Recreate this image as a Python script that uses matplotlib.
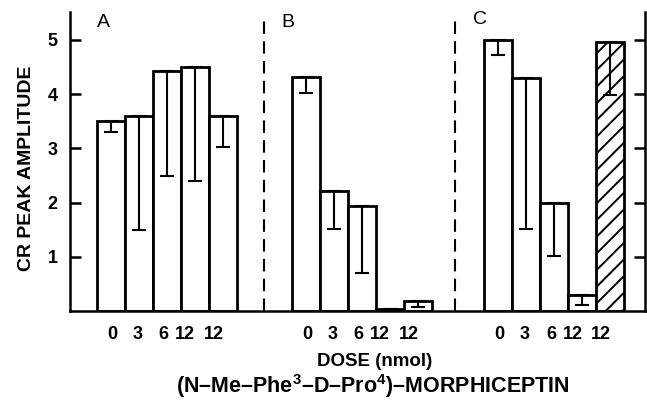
import numpy as np
import matplotlib
matplotlib.use("Agg")
import matplotlib.pyplot as plt

plt.rcParams['font.family'] = ['Liberation Sans', 'DejaVu Sans']
plt.rcParams['mathtext.fontset'] = 'custom'
plt.rcParams['mathtext.bf'] = 'Liberation Sans:bold'
plt.rcParams['mathtext.rm'] = 'Liberation Sans:bold'
plt.rcParams['hatch.linewidth'] = 1.4

# data
doses = ["0", "3", "6", "12", "12"]
panels = ["A", "B", "C"]
means_a = [3.5, 3.6, 4.42, 4.5, 3.6]
lower_a = [3.3, 1.5, 2.5, 2.4, 3.03]
means_b = [4.32, 2.22, 1.93, 0.03, 0.19]
lower_b = [4.02, 1.52, 0.71, 0.03, 0.07]
means_c = [5.0, 4.3, 2.0, 0.3, 4.97]
lower_c = [4.72, 1.51, 1.01, 0.11, 3.98]
hatched_c = [False, False, False, False, True]

means = [means_a, means_b, means_c]
lowers = [lower_a, lower_b, lower_c]
hatch = [[False] * 5, [False] * 5, hatched_c]

# layout (bar-width units)
starts = [0.96, 7.92, 14.8]
dividers = [6.93, 13.75]
label_shift = [0.05, -0.05, -0.12, -0.35, -0.33]
letter_pos = [(1.18, 5.33), (7.79, 5.33), (14.64, 5.37)]

fig = plt.figure(figsize=(6.47, 4.03), dpi=100)
ax = fig.add_axes([70 / 647, 92 / 403, 575 / 647, 299 / 403])

ticks, ticklabels = [], []
for p in range(3):
    x = starts[p] + 0.5 + np.arange(5)
    for i in range(5):
        ax.bar(x[i], means[p][i], width=1.0, facecolor='white', edgecolor='black',
               linewidth=2.0, hatch='//' if hatch[p][i] else None, zorder=2)
    err = np.array(means[p]) - np.array(lowers[p])
    ax.errorbar(x, means[p], yerr=[err, np.zeros(5)], fmt='none', ecolor='black',
                elinewidth=1.5, capsize=5, capthick=1.5, zorder=3)
    ticks += list(x + np.array(label_shift))
    ticklabels += doses
    ax.text(*letter_pos[p], panels[p], fontsize=14, ha='center', va='center')

for d in dividers:
    ax.plot([d, d], [0, 5.35], color='black', lw=1.5, dashes=(6, 3.5), zorder=1)

ax.set_xlim(0, 575 / 28)
ax.set_ylim(0, 299 / 54.2)
ax.spines['top'].set_visible(False)
for s in ['left', 'right', 'bottom']:
    ax.spines[s].set_linewidth(1.8)

ax.set_yticks([1, 2, 3, 4, 5])
ax.set_yticklabels(["1", "2", "3", "4", "5"], fontweight='bold', fontsize=13)
ax.tick_params(axis='y', direction='in', length=8, width=1.8, pad=9,
               right=True, labelright=False)
ax.set_xticks(ticks)
ax.set_xticklabels(ticklabels, fontweight='bold', fontsize=13)
ax.tick_params(axis='x', length=0, pad=11)

fig.text(27 / 647, 1 - 168 / 403, "CR PEAK AMPLITUDE", rotation=90,
         fontsize=14, fontweight='bold', ha='center', va='center')
fig.text(375 / 647, 1 - 361 / 403, "DOSE (nmol)", fontsize=13.5,
         fontweight='bold', ha='center', va='center')
title = "(N\u2013Me\u2013Phe$^{3}$\u2013D\u2013Pro$^{4}$)\u2013MORPHICEPTIN"
fig.text(373 / 647, 1 - 386 / 403, title,
         fontsize=15.5, fontweight='bold', ha='center', va='center')

fig.savefig("out.png", dpi=100)
